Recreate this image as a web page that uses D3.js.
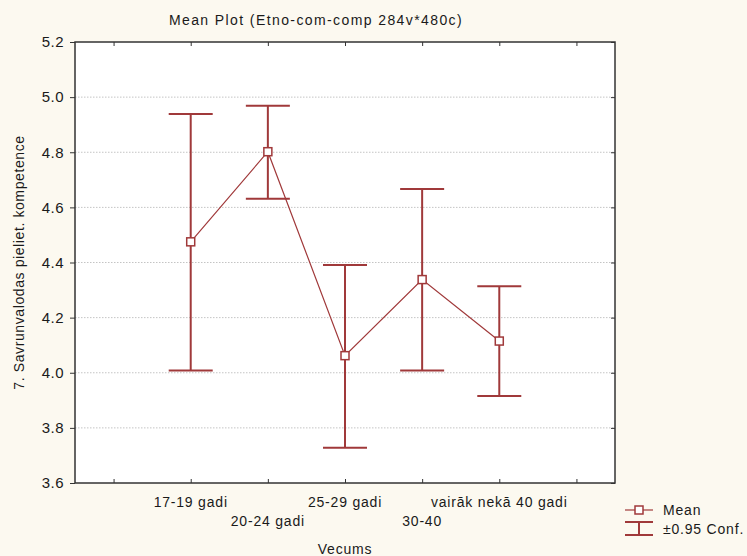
<!DOCTYPE html>
<html>
<head>
<meta charset="utf-8">
<script src="https://cdn.jsdelivr.net/npm/d3@7"></script>
<style>
  body { margin: 0; background: #fcf9f0; }
  text { font-family: "Liberation Sans", Arial, sans-serif; fill: #1a1a1a; }
</style>
</head>
<body>
<div id="chart"></div>
<script>
// age groups (slot index on the x axis, 0 and 6 are empty)
var categories = ["17-19 gadi", "20-24 gadi", "25-29 gadi", "30-40", "vairāk nekā 40 gadi"];
var slots = [1, 2, 3, 4, 5];
var means = [4.475, 4.802, 4.062, 4.338, 4.115];
var upper = [4.939, 4.969, 4.391, 4.667, 4.314];
var lower = [4.008, 4.631, 3.728, 4.008, 3.916];
var yTicks = [3.6, 3.8, 4.0, 4.2, 4.4, 4.6, 4.8, 5.0, 5.2];
var xTickSlots = [0, 1, 2, 3, 4, 5, 6];

var col = "#a0393a";
var W = 747, H = 556;
var margin = {top: 42, right: 132, bottom: 73, left: 75};
var width = W - margin.left - margin.right,
    height = H - margin.top - margin.bottom;

var svg = d3.select("#chart")
  .append("svg")
  .attr("width", W)
  .attr("height", H);

svg.append("rect")
  .attr("width", W).attr("height", H)
  .attr("fill", "#fcf9f0");

var g = svg.append("g")
  .attr("transform", "translate(" + margin.left + "," + margin.top + ")");

var x = d3.scaleLinear().domain([-0.5, 6.5]).range([0, width]);
var y = d3.scaleLinear().domain([3.6, 5.2]).range([height, 0]);

g.append("rect")
  .attr("width", width).attr("height", height)
  .attr("fill", "#fff");

// gridlines
g.selectAll(".grid")
  .data(yTicks.slice(1, -1))
  .enter().append("line")
  .attr("x1", 0).attr("x2", width)
  .attr("y1", d => y(d)).attr("y2", d => y(d))
  .attr("stroke", "#c4c4c4")
  .attr("stroke-dasharray", "1.5,1.5");

// left axis (ticks outside)
var yAxis = g.append("g")
  .call(d3.axisLeft(y).tickValues(yTicks).tickFormat(d3.format(".1f")).tickSize(5).tickPadding(6));
yAxis.select(".domain").remove();
yAxis.selectAll("line").attr("stroke", "#333");
yAxis.selectAll("text").attr("font-size", 15).attr("fill", "#1a1a1a")
  .attr("font-family", "Liberation Sans, Arial, sans-serif").attr("letter-spacing", 0.5);

// right axis (ticks inside)
var yAxisR = g.append("g")
  .attr("transform", "translate(" + width + ",0)")
  .call(d3.axisLeft(y).tickValues(yTicks).tickFormat("").tickSize(4));
yAxisR.select(".domain").remove();
yAxisR.selectAll("line").attr("stroke", "#333");

// top and bottom ticks (inside)
var xTop = g.append("g")
  .call(d3.axisBottom(x).tickValues(xTickSlots).tickFormat("").tickSize(4));
xTop.select(".domain").remove();
xTop.selectAll("line").attr("stroke", "#333");

var xBot = g.append("g")
  .attr("transform", "translate(0," + height + ")")
  .call(d3.axisTop(x).tickValues(xTickSlots).tickFormat("").tickSize(4));
xBot.select(".domain").remove();
xBot.selectAll("line").attr("stroke", "#333");

// frame
g.append("rect")
  .attr("width", width).attr("height", height)
  .attr("fill", "none")
  .attr("stroke", "#333")
  .attr("stroke-width", 1.5);

// x labels, staggered in two rows
g.selectAll(".xlab")
  .data(categories)
  .enter().append("text")
  .attr("x", (d, i) => x(slots[i]))
  .attr("y", (d, i) => height + (i % 2 == 0 ? 24 : 43))
  .attr("text-anchor", "middle")
  .attr("font-size", 14)
  .attr("letter-spacing", 0.8)
  .text(d => d);

// line through means
var line = d3.line()
  .x((d, i) => x(slots[i]))
  .y(d => y(d));

g.append("path")
  .datum(means)
  .attr("d", line)
  .attr("fill", "none")
  .attr("stroke", col)
  .attr("stroke-width", 1.2);

// error bars
var bars = g.selectAll(".bar")
  .data(means)
  .enter().append("g");

bars.append("line")
  .attr("x1", (d, i) => x(slots[i])).attr("x2", (d, i) => x(slots[i]))
  .attr("y1", (d, i) => y(upper[i])).attr("y2", (d, i) => y(lower[i]))
  .attr("stroke", col).attr("stroke-width", 2);

bars.append("line")
  .attr("x1", (d, i) => x(slots[i]) - 22).attr("x2", (d, i) => x(slots[i]) + 22)
  .attr("y1", (d, i) => y(upper[i])).attr("y2", (d, i) => y(upper[i]))
  .attr("stroke", col).attr("stroke-width", 2);

bars.append("line")
  .attr("x1", (d, i) => x(slots[i]) - 22).attr("x2", (d, i) => x(slots[i]) + 22)
  .attr("y1", (d, i) => y(lower[i])).attr("y2", (d, i) => y(lower[i]))
  .attr("stroke", col).attr("stroke-width", 2);

bars.append("rect")
  .attr("x", (d, i) => x(slots[i]) - 4).attr("y", d => y(d) - 4)
  .attr("width", 8).attr("height", 8)
  .attr("fill", "#fff")
  .attr("stroke", col).attr("stroke-width", 1.5);

// title
svg.append("text")
  .attr("x", 316)
  .attr("y", 25)
  .attr("text-anchor", "middle")
  .attr("font-size", 14)
  .attr("letter-spacing", 1.4)
  .text("Mean Plot (Etno-com-comp 284v*480c)");

// axis titles
svg.append("text")
  .attr("x", margin.left + width / 2)
  .attr("y", 554)
  .attr("text-anchor", "middle")
  .attr("font-size", 14)
  .attr("letter-spacing", 0.8)
  .text("Vecums");

svg.append("text")
  .attr("transform", "translate(24," + (margin.top + height / 2) + ") rotate(-90)")
  .attr("text-anchor", "middle")
  .attr("font-size", 14)
  .attr("letter-spacing", 0.6)
  .text("7. Savrunvalodas pieliet. kompetence");

// legend
var leg = svg.append("g").attr("transform", "translate(625,510)");
leg.append("line").attr("x1", 0).attr("x2", 28).attr("y1", 0).attr("y2", 0)
  .attr("stroke", col).attr("stroke-width", 1.2);
leg.append("rect").attr("x", 10).attr("y", -4).attr("width", 8).attr("height", 8)
  .attr("fill", "#fff").attr("stroke", col).attr("stroke-width", 1.5);
leg.append("text").attr("x", 38).attr("y", 5).attr("font-size", 14).attr("letter-spacing", 0.8).text("Mean");

leg.append("line").attr("x1", 0).attr("x2", 28).attr("y1", 12).attr("y2", 12)
  .attr("stroke", col).attr("stroke-width", 2);
leg.append("line").attr("x1", 0).attr("x2", 28).attr("y1", 25).attr("y2", 25)
  .attr("stroke", col).attr("stroke-width", 2);
leg.append("line").attr("x1", 14).attr("x2", 14).attr("y1", 12).attr("y2", 25)
  .attr("stroke", col).attr("stroke-width", 2);
leg.append("text").attr("x", 38).attr("y", 24).attr("font-size", 14).attr("letter-spacing", 0.8).text("±0.95 Conf.");
</script>
</body>
</html>
